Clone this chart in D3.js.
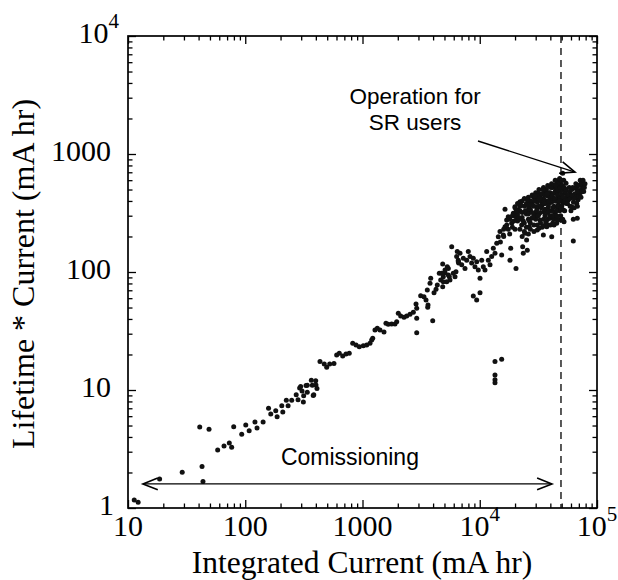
<!doctype html>
<html>
<head>
<meta charset="utf-8">
<title>Lifetime * Current vs Integrated Current</title>
<script src="https://d3js.org/d3.v7.min.js"></script>
<style>
  body { margin: 0; background: #fff; }
  .serif { font-family: "Liberation Serif", "Times New Roman", serif; }
  .sans { font-family: "Liberation Sans", Arial, Helvetica, sans-serif; }
  .ax path.domain { display: none; }
  .ax line { stroke: #000; stroke-width: 1.3; }
</style>
</head>
<body>
<svg id="chart" width="618" height="580"></svg>
<script>
// data: [integrated current (mA hr), lifetime*current (mA hr)]
const lowPoints = [
  [11.3,1.17],[12.2,1.12],[18.6,1.76],[29.0,2.01],[40.9,4.85],[49.1,4.64],[42.8,2.25],[43.6,1.68],
  [58.2,3.10],[65.9,3.35],[73.1,3.55],[76.6,3.27],[79.7,4.89],[93.3,4.21],[101,5.05],[108,4.52],
  [121,5.36],[126,4.77],[142,5.36],[158,7.0],[165,6.26],[182,6.68],[187,5.94],[205,7.36],[209,6.52],
  [224,8.2],[232,7.36],[249,8.2],[272,9.12],[282,8.27],[291,10.4],[297,10.7],[305,9.8],[313,7.9],
  [315,8.95],[330,10.9],[338,9.57],[338,10.96],[366,12.1],[373,10.96],[380,9.0],[384,9.12],
  [399,12.0],[401,11.0],[409,10.3],[434,17.4],[472,16.6],[495,15.6],[525,16.6],[571,16.8]
];
const midPoints = [
  [602,19.8],[634,20.5],[678,19.4],[723,20.2],[771,20.5],[825,24.9],[881,24.1],[939,23.3],
  [1016,23.7],[1086,24.1],[1159,24.9],[1197,26.5],[1222,27.4],[1278,32.2],[1337,33.3],[1410,32.2],
  [1525,31.0],[1585,36.7],[1658,36.0],[1773,36.3],[1892,36.3],[1958,37.9],[2020,44.7],[2118,42.4],
  [2260,41.3],[2383,42.4],[2543,43.8],[2713,45.5],[2860,53.5],[2900,49.2],[2900,40.5],[2900,30.6],
  [3135,63.0],[3343,61.8],[3480,57.9],[3620,52.5],[3600,50.2],[3570,70.3],[3765,80.1],[3818,88.4],
  [3970,38.6],[4074,66.8],[4238,71.3],[4345,77.6],[4519,97.5],[4645,85.5],[4830,117],[4890,91.2],
  [5055,98.6],[5224,82.8],[5395,107],[5500,91.2],[5765,164],[5945,97.5],[6270,100.7],[6430,149],
  [6560,126],[6610,119],[4735,97.5],[5055,104],[5395,94.4],[4890,82.8],[5570,85.5],[6150,91.2],
  [4830,75.0],[5285,111]
];
const highPoints = [
  [6355,135],[6790,144],[6560,122],[7245,131],[7485,107],[7015,115],[7985,149],[8255,135],
  [7740,126],[8530,119],[8810,131],[9100,111],[9415,122],[9720,104],[10050,88.4],[10390,126],
  [10720,111],[11080,104],[11460,149],[11830,126],[12230,115],[12640,135],[13050,159],[13490,144],
  [13960,175],[8810,62.7],[9415,57.9],[10050,66.8],[15380,139],[18110,126],[20380,107],[18370,159],
  [13490,17.4],[15380,18.2],[13490,13.4],[13490,12.2],[13490,11.5]
];
const clusterPoints = [
  [14400,199],[14880,220],[15890,206],[16420,242],[16420,340],[16970,276],[17510,294],[18720,259],
  [19330,314],[19980,357],[20650,285],[21330,335],[22040,394],[22780,250],[23230,164],[23510,144],
  [24290,213],[25100,187],[25430,153],[25930,335],[26460,242],[26830,394],[27730,285],[28640,435],
  [29600,314],[30590,357],[30950,227],[31600,464],[32660,276],[33760,394],[34880,206],[35350,324],
  [36050,479],[37260,242],[38480,357],[39760,528],[40300,285],[41100,199],[42400,422],[42980,250],
  [43830,314],[45300,565],[45830,464],[46780,370],[47720,603],[48340,276],[48980,495],[49980,407],
  [50970,686],[51610,335],[52330,267],[53350,464],[54440,565],[45300,259],
  [20000,300],[21000,270],[22000,330],[23000,290],[24000,360],[25000,310],[26000,280],[27000,340],
  [28000,380],[29000,300],[30000,420],[31000,350],[32000,310],[33000,450],[34000,370],[35000,420],
  [36000,300],[37000,500],[38000,440],[39000,330],[40000,470],[41000,390],[42000,520],[43000,360],
  [44000,480],[45000,400],[46000,540],[47000,430],[48000,330],[49000,560],[50000,450],[51000,380],
  [52000,600],[53000,500],[55000,430],[44000,300],[38000,280],[33000,260],[27000,230],[24000,220],
  [36000,380],[41000,330],[46000,350],[31000,390],[29000,360],[26000,310],[22000,280],[19000,240],
  [17500,230],[16000,200]
];
const clusterFill = [
  [15000,180],[16000,230],[17000,250],[18000,210],[18000,280],[19000,300],[20000,230],[20000,350],
  [21000,310],[21000,380],[22000,230],[22000,360],[23000,320],[23000,400],[24000,260],[24000,420],
  [25000,240],[25000,380],[26000,360],[26000,430],[27000,260],[27000,400],[28000,320],[28000,450],
  [29000,250],[29000,400],[30000,280],[30000,470],[31000,250],[31000,440],[32000,360],[32000,500],
  [33000,320],[33000,410],[34000,240],[34000,460],[35000,280],[35000,520],[36000,340],[36000,450],
  [37000,270],[37000,400],[38000,320],[38000,540],[39000,380],[39000,470],[40000,250],[40000,420],
  [41000,300],[41000,560],[42000,350],[42000,460],[43000,280],[43000,540],[44000,400],[44000,600],
  [45000,330],[45000,500],[46000,280],[46000,450],[47000,360],[47000,560],[48000,420],[48000,620],
  [49000,300],[49000,480],[50000,360],[50000,600],[51000,280],[51000,520],[52000,400],[53000,330],
  [54000,480],[55000,380],
  [19500,270],[20500,330],[21500,290],[22500,370],[23500,270],[24500,330],[25500,410],[26500,270],
  [27500,370],[28500,290],[29500,440],[30500,330],[31500,300],[32500,420],[33500,350],[34500,500],
  [35500,380],[36500,260],[37500,460],[38500,400],[39500,300],[40500,520],[41500,440],[42500,300],
  [43500,420],[44500,540],[45500,300],[46500,500],[47500,400],[48500,520],[49500,350],[50500,540],
  [51500,430],[52500,520],[53500,400],[54500,500],[23000,200],[26000,210],[29000,220],[32000,235],
  [35000,245],[38000,250],[42000,260]
];
const userPoints = [
  [56910,407],[58840,479],[60820,357],[62800,435],[64910,512],[67090,382],[69290,464],[71610,546],
  [74010,479],[76440,546],[62800,280],[67870,285],[62800,183],[57000,450],[59000,420],[61000,500],
  [63000,390],[65000,460],[67000,520],[69000,410],[71000,490],[73000,560],[75000,510],[78000,520],
  [60000,330],[64000,350],[66000,430],[70000,440],[72000,470],[56000,380],[58000,520],[59000,360],
  [61000,450],[62000,520],[64000,420],[66000,560],[68000,480],[70000,540],[72000,600],[74000,560],
  [76000,600],[77000,480],[79000,560],[73000,430],[68000,360]
];

const xMajor = [10, 100, 1000, 1e4, 1e5];
const yMajor = [1, 10, 100, 1000, 1e4];
const xTickLabels = [["10",""],["100",""],["1000",""],["10","4"],["10","5"]];
const yTickLabels = [["1",""],["10",""],["100",""],["1000",""],["10","4"]];
const userStart = 49300;          // dashed line, start of SR user operation
const commissionSpan = [13.4, 41300], commissionLevel = 1.6;
const userArrow = [[9660, 1288], [64900, 703]];

const svg = d3.select("#chart");
const x = d3.scaleLog().domain([10, 1e5]).range([128, 597]);
const y = d3.scaleLog().domain([1, 1e4]).range([508, 36]);

// minor ticks 2..9 each decade
function minors(lo, hi) {
  let out = [];
  for (let d = lo; d < hi; d *= 10)
    for (let k = 2; k <= 9; k++) out.push(d * k);
  return out;
}
const xMinor = minors(10, 1e5), yMinor = minors(1, 1e4);

function addAxis(axisFn, scale, vals, size, tr) {
  svg.append("g").attr("class", "ax").attr("transform", tr)
    .call(axisFn(scale).tickValues(vals).tickSize(size).tickSizeOuter(0).tickFormat(""));
}
// inward ticks on all 4 sides
addAxis(d3.axisBottom, x, xMajor, -8, `translate(0,${y(1)})`);
addAxis(d3.axisBottom, x, xMinor, -4.5, `translate(0,${y(1)})`);
addAxis(d3.axisTop, x, xMajor, -8, `translate(0,${y(1e4)})`);
addAxis(d3.axisTop, x, xMinor, -4.5, `translate(0,${y(1e4)})`);
addAxis(d3.axisLeft, y, yMajor, -8, `translate(${x(10)},0)`);
addAxis(d3.axisLeft, y, yMinor, -4.5, `translate(${x(10)},0)`);
addAxis(d3.axisRight, y, yMajor, -8, `translate(${x(1e5)},0)`);
addAxis(d3.axisRight, y, yMinor, -4.5, `translate(${x(1e5)},0)`);

svg.append("rect")
  .attr("x", x(10)).attr("y", y(1e4))
  .attr("width", x(1e5) - x(10)).attr("height", y(1) - y(1e4))
  .attr("fill", "none").attr("stroke", "#000").attr("stroke-width", 1.7);

// tick labels
xMajor.forEach((v, i) => {
  const t = svg.append("text").attr("class", "serif")
    .attr("x", x(v)).attr("y", 536).attr("text-anchor", "middle")
    .style("font-size", "30px").text(xTickLabels[i][0]);
  if (xTickLabels[i][1])
    t.append("tspan").attr("dy", -15).style("font-size", "21px").text(xTickLabels[i][1]);
});
yMajor.forEach((v, i) => {
  let ex = v === 1 ? 114 : (yTickLabels[i][1] ? 119 : 111);
  const t = svg.append("text").attr("class", "serif")
    .attr("x", ex).attr("y", y(v) + 7).attr("text-anchor", "end")
    .style("font-size", "30px").text(yTickLabels[i][0]);
  if (yTickLabels[i][1])
    t.append("tspan").attr("dy", -15).style("font-size", "21px").text(yTickLabels[i][1]);
});

// axis titles
svg.append("text").attr("class", "serif")
  .attr("x", 362).attr("y", 573).attr("text-anchor", "middle")
  .style("font-size", "31.5px").text("Integrated Current (mA hr)");
svg.append("text").attr("class", "serif")
  .attr("transform", "translate(34,274) rotate(-90)").attr("text-anchor", "middle")
  .style("font-size", "32px").text("Lifetime * Current (mA hr)");

// dashed line
svg.append("line")
  .attr("x1", x(userStart)).attr("x2", x(userStart))
  .attr("y1", y(1e4)).attr("y2", y(1))
  .attr("stroke", "#000").attr("stroke-width", 1.3).attr("stroke-dasharray", "7,5");

// points
const allPts = [].concat(lowPoints, midPoints, highPoints, clusterPoints, clusterFill, userPoints);
svg.append("g").selectAll("circle").data(allPts).join("circle")
  .attr("cx", d => x(d[0])).attr("cy", d => y(d[1]))
  .attr("r", 2.5).attr("fill", "#111");

// arrows
function arrowHead(px, py, ang, len, w) {
  const a1 = ang + Math.PI - w, a2 = ang + Math.PI + w;
  svg.append("path")
    .attr("d", `M${px + len * Math.cos(a1)},${py + len * Math.sin(a1)}L${px},${py}L${px + len * Math.cos(a2)},${py + len * Math.sin(a2)}`)
    .attr("fill", "none").attr("stroke", "#000").attr("stroke-width", 1.6);
}
const cy = y(commissionLevel);
svg.append("line")
  .attr("x1", x(commissionSpan[0])).attr("x2", x(commissionSpan[1]))
  .attr("y1", cy).attr("y2", cy).attr("stroke", "#000").attr("stroke-width", 1.4);
arrowHead(x(commissionSpan[0]), cy, Math.PI, 16, 0.38);
arrowHead(x(commissionSpan[1]), cy, 0, 16, 0.38);

const ax1 = x(userArrow[0][0]), ay1 = y(userArrow[0][1]);
const ax2 = x(userArrow[1][0]), ay2 = y(userArrow[1][1]);
svg.append("line").attr("x1", ax1).attr("y1", ay1).attr("x2", ax2).attr("y2", ay2)
  .attr("stroke", "#000").attr("stroke-width", 1.4);
arrowHead(ax2, ay2, Math.atan2(ay2 - ay1, ax2 - ax1), 16, 0.38);

// annotations
svg.append("text").attr("class", "sans")
  .attr("x", x(2810)).attr("y", y(2550) - 2).attr("text-anchor", "middle")
  .style("font-size", "22.5px").text("Operation for");
svg.append("text").attr("class", "sans")
  .attr("x", x(2810)).attr("y", y(2550) + 24).attr("text-anchor", "middle")
  .style("font-size", "22.5px").text("SR users");
svg.append("text").attr("class", "sans")
  .attr("x", x(781)).attr("y", y(2.31)).attr("text-anchor", "middle")
  .style("font-size", "23px").text("Comissioning");
</script>
</body>
</html>
